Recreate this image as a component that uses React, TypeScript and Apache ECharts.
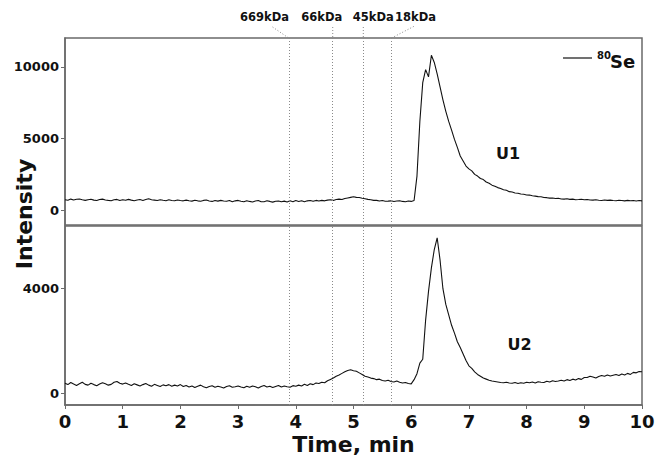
import { useEffect, useRef } from "react";
import * as echarts from "echarts";

// Sampling interval of the chromatogram (min)
const STEP = 0.05;

// U1 trace (80Se intensity), samples at 0, 0.05, ... 10 min
const U1 = [
  760, 720, 800, 740, 790, 810, 750, 710, 760, 790, 730, 700, 770, 800, 740, 710, 690, 760, 780, 700, 760,
  720, 780, 730, 690, 740, 770, 710, 770, 830, 760, 730, 700, 760, 720, 690, 750, 700, 690, 740, 700,
  680, 730, 690, 660, 720, 680, 650, 710, 740, 670, 640, 700, 660, 710, 670, 650, 700, 620, 680, 710,
  650, 620, 690, 640, 600, 670, 700, 620, 620, 680, 640, 590, 650, 670, 610, 660, 600, 680, 620, 700,
  640, 690, 620, 680, 700, 650, 710, 670, 710, 680, 730, 750, 710, 770, 800, 770, 840, 880, 920, 960,
  920, 910, 860, 830, 780, 760, 710, 710, 670, 700, 650, 660, 680, 630, 670, 690, 640, 620, 670, 640,
  700, 2400, 6200, 8900, 9800, 9300, 10800, 10300, 9500, 8600, 7700, 6900, 6200, 5600, 4950, 4400, 3800, 3450, 3100, 2900,
  2760, 2520, 2400, 2230, 2160, 1990, 1900, 1770, 1700, 1600, 1540, 1450, 1410, 1320, 1290, 1230, 1210, 1150, 1140, 1090,
  1080, 1030, 1010, 970, 960, 910, 900, 870, 880, 840, 860, 810, 800, 820, 780, 800, 760, 770, 790, 750,
  770, 740, 730, 760, 720, 700, 740, 710, 730, 700, 690, 720, 700, 680, 710, 690, 700, 670, 700, 680,
];

// U2 trace
const U2 = [
  380, 330, 410, 350, 300, 360, 420, 340, 310, 380, 330, 290, 350, 400, 360, 310, 340, 420, 450, 380, 350,
  390, 340, 300, 360, 320, 280, 330, 370, 310, 270, 340, 300, 260, 320, 290, 330, 270, 310, 280, 330,
  260, 300, 240, 280, 220, 270, 310, 250, 210, 260, 290, 230, 270, 240, 200, 260, 290, 230, 250, 280,
  240, 210, 270, 230, 280, 250, 200, 260, 300, 240, 270, 220, 260, 300, 240, 280, 250, 230, 290, 270,
  310, 280, 340, 300, 360, 330, 390, 370, 420, 400, 480, 530, 580, 650, 700, 760, 820, 870, 900, 860,
  840, 780, 720, 650, 620, 580, 560, 520, 540, 490, 470, 500, 450, 430, 470, 420, 390, 410, 370, 360,
  520, 750, 1150, 1300, 2800, 3900, 4800, 5500, 5950, 5100, 4000, 3400, 3000, 2600, 2300, 1970, 1750, 1500, 1250, 1050,
  950, 820, 720, 650, 580, 540, 500, 470, 450, 430, 410, 400, 420, 390, 380, 410, 370, 400, 380, 420,
  400, 430, 390, 440, 420, 410, 460, 430, 480, 450, 470, 500, 470, 520, 490, 540, 510, 560, 530, 600,
  600, 650, 620, 580, 640, 680, 650, 700, 660, 690, 720, 680, 740, 700, 760, 720, 800, 780, 830, 820,
];

// Molecular weight calibration markers
const MARKER_LABELS = ["669kDa", "66kDa", "45kDa", "18kDa"];
const MARKER_TIMES = [3.875, 4.64, 5.17, 5.66];

// Axis ticks
const X_MIN = 0;
const X_MAX = 10;
const X_INTERVAL = 1;
const TOP_Y_TICKS = [0, 5000, 10000];
const BOTTOM_Y_TICKS = [0, 4000];

const TRACE_LABELS = ["U1", "U2"];
const LEGEND_SUP = "80";
const LEGEND_ELEMENT = "Se";
const X_TITLE = "Time, min";
const Y_TITLE = "Intensity";

const FONT = "DejaVu Sans";
const INK = "#111";
const FRAME = "#6a6a6a";

export default function App() {
  const ref = useRef<HTMLDivElement>(null);

  useEffect(() => {
    if (!ref.current) return;
    const chart = echarts.init(ref.current, null, { renderer: "svg" });

    const toPairs = (arr: number[]) => arr.map((v, i) => [+(i * STEP).toFixed(2), v]);

    const markLine = {
      silent: true,
      symbol: ["none", "none"],
      label: { show: false },
      lineStyle: { type: [1, 2], color: "#8a8a8a", width: 1 },
      data: MARKER_TIMES.map((t) => ({ xAxis: t })),
      animation: false,
    };

    const yLabel = {
      fontFamily: FONT,
      fontWeight: "bold",
      fontSize: 13,
      color: INK,
      margin: 6,
      formatter: (v: number) => String(v),
    };

    chart.setOption({
      animation: false,
      backgroundColor: "#fff",
      grid: [
        { left: 65, top: 38, width: 577, height: 187, show: true, borderColor: FRAME, borderWidth: 1.5 },
        { left: 65, top: 226, width: 577, height: 179, show: true, borderColor: FRAME, borderWidth: 1.5 },
      ],
      xAxis: [
        {
          gridIndex: 0,
          type: "value",
          min: X_MIN,
          max: X_MAX,
          interval: X_INTERVAL,
          axisLabel: { show: false },
          axisTick: { show: false },
          axisLine: { show: false, onZero: false },
          splitLine: { show: false },
        },
        {
          gridIndex: 1,
          type: "value",
          min: X_MIN,
          max: X_MAX,
          interval: X_INTERVAL,
          axisLabel: { fontFamily: FONT, fontWeight: "bold", fontSize: 18, color: INK, margin: 7 },
          axisTick: { show: true, length: 4, lineStyle: { color: FRAME } },
          axisLine: { show: true, onZero: false, lineStyle: { color: FRAME, width: 1.5 } },
          splitLine: { show: false },
          name: X_TITLE,
          nameLocation: "middle",
          nameGap: 28,
          nameTextStyle: { fontFamily: FONT, fontWeight: "bold", fontSize: 22, color: INK },
        },
      ],
      yAxis: [
        {
          gridIndex: 0,
          type: "value",
          min: -1000,
          max: 12000,
          axisLabel: { ...yLabel, customValues: TOP_Y_TICKS },
          axisTick: { show: true, length: 4, customValues: TOP_Y_TICKS, lineStyle: { color: FRAME } },
          axisLine: { show: true, onZero: false, lineStyle: { color: FRAME, width: 1.5 } },
          splitLine: { show: false },
        },
        {
          gridIndex: 1,
          type: "value",
          min: -450,
          max: 6400,
          axisLabel: { ...yLabel, customValues: BOTTOM_Y_TICKS },
          axisTick: { show: true, length: 4, customValues: BOTTOM_Y_TICKS, lineStyle: { color: FRAME } },
          axisLine: { show: true, onZero: false, lineStyle: { color: FRAME, width: 1.5 } },
          splitLine: { show: false },
        },
      ],
      series: [
        {
          name: "U1",
          type: "line",
          xAxisIndex: 0,
          yAxisIndex: 0,
          data: toPairs(U1),
          showSymbol: false,
          lineStyle: { color: INK, width: 1.1 },
          z: 3,
          markLine,
        },
        {
          name: "U2",
          type: "line",
          xAxisIndex: 1,
          yAxisIndex: 1,
          data: toPairs(U2),
          showSymbol: false,
          lineStyle: { color: INK, width: 1.1 },
          z: 3,
          markLine,
        },
      ],
    });

    // Annotations placed through the axis scales
    const px = (t: number) => chart.convertToPixel({ xAxisIndex: 1 }, t) as number;
    const labelDx = [-24, -11, 10, 24];
    const leader = [
      [-16, 27, 0, 38],
      [0, 27, 0, 38],
      [0, 27, 0, 38],
      [0, 38, 23, 26],
    ];
    const graphics: any[] = [];
    MARKER_TIMES.forEach((t, i) => {
      const x = px(t);
      graphics.push({
        type: "text",
        x: x + labelDx[i],
        y: 17,
        style: {
          text: MARKER_LABELS[i],
          fontFamily: FONT,
          fontWeight: "bold",
          fontSize: 11.5,
          fill: INK,
          align: "center",
          verticalAlign: "middle",
        },
      });
      const l = leader[i];
      graphics.push({
        type: "line",
        shape: { x1: x + l[0], y1: l[1], x2: x + l[2], y2: l[3] },
        style: { stroke: "#888", lineWidth: 1, lineDash: [1, 2] },
      });
    });

    const u1Pos = chart.convertToPixel({ xAxisIndex: 0, yAxisIndex: 0 }, [7.68, 4000]) as number[];
    const u2Pos = chart.convertToPixel({ xAxisIndex: 1, yAxisIndex: 1 }, [7.88, 1850]) as number[];
    [u1Pos, u2Pos].forEach((p, i) =>
      graphics.push({
        type: "text",
        x: p[0],
        y: p[1],
        style: {
          text: TRACE_LABELS[i],
          fontFamily: FONT,
          fontWeight: "bold",
          fontSize: 16,
          fill: INK,
          align: "center",
          verticalAlign: "middle",
        },
      })
    );

    // Legend
    graphics.push(
      { type: "line", shape: { x1: 563, y1: 58, x2: 592, y2: 58 }, style: { stroke: INK, lineWidth: 1.2 } },
      {
        type: "text",
        x: 597,
        y: 55,
        style: { text: LEGEND_SUP, fontFamily: FONT, fontWeight: "bold", fontSize: 10, fill: INK, align: "left", verticalAlign: "middle" },
      },
      {
        type: "text",
        x: 610,
        y: 61,
        style: { text: LEGEND_ELEMENT, fontFamily: FONT, fontWeight: "bold", fontSize: 18, fill: INK, align: "left", verticalAlign: "middle" },
      },
      {
        type: "text",
        x: 24,
        y: 214,
        rotation: Math.PI / 2,
        style: { text: Y_TITLE, fontFamily: FONT, fontWeight: "bold", fontSize: 22, fill: INK, align: "center", verticalAlign: "middle" },
      }
    );

    chart.setOption({ graphic: graphics });

    return () => chart.dispose();
  }, []);

  return <div ref={ref} style={{ position: "absolute", left: 0, top: 0, width: 659, height: 459 }} />;
}
